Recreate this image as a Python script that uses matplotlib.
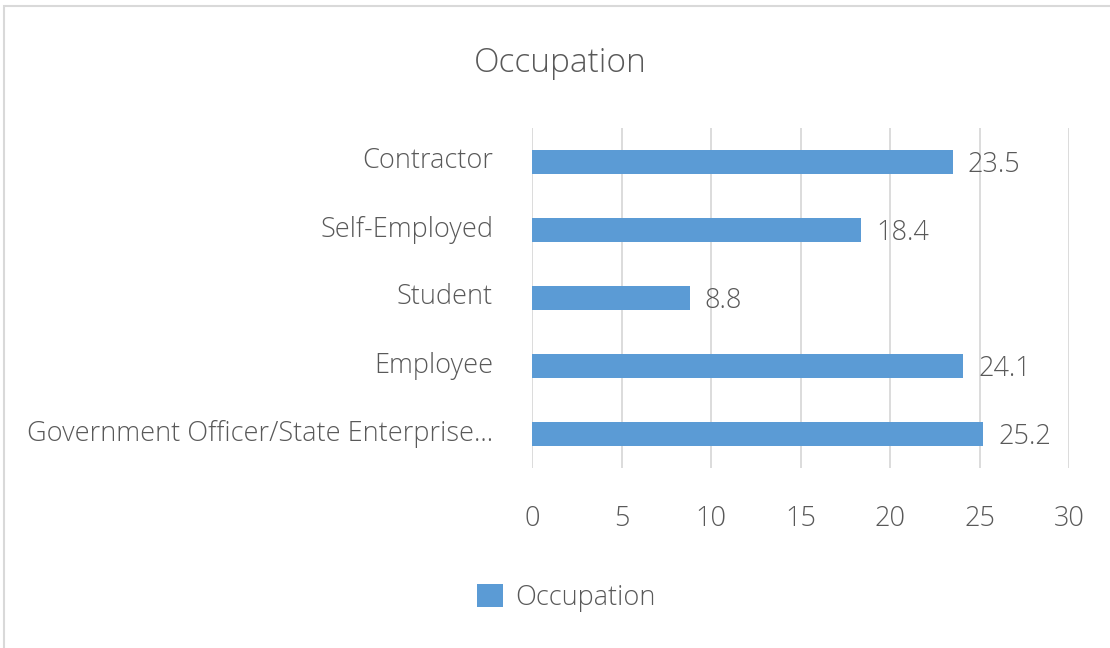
import matplotlib.pyplot as plt
from matplotlib.patches import Rectangle
from matplotlib.transforms import ScaledTranslation

categories = ["Government Officer/State Enterprise...", "Employee", "Student",
              "Self-Employed", "Contractor"]
values = [25.2, 24.1, 8.8, 18.4, 23.5]
xticks = [0, 5, 10, 15, 20, 25, 30]

bar_color = "#5B9BD5"
text_color = "#595959"
grid_color = "#D9D9D9"

plt.rcParams['font.family'] = ['Open Sans', 'DejaVu Sans']
plt.rcParams['font.weight'] = 'light'

fig = plt.figure(figsize=(11.1, 6.48), dpi=100)
ax = fig.add_axes([532 / 1110, 1 - 468 / 648, 537 / 1110, 340 / 648])

pos = list(range(len(categories)))
bars = ax.barh(pos, values, height=0.36, color=bar_color, label="Occupation", zorder=2)

ax.set_xlim(0, 30)
ax.set_ylim(-0.5, len(categories) - 0.5)
ax.set_xticks(xticks)
ax.set_xticklabels([str(t) for t in xticks])
ax.set_yticks(pos)
ax.set_yticklabels(categories)
ax.tick_params(axis='both', length=0, labelsize=19.5, colors=text_color)
ax.tick_params(axis='x', pad=27)
ax.tick_params(axis='y', pad=28)
ax.xaxis.grid(True, color=grid_color, linewidth=1.3, zorder=0)
for s in ax.spines.values():
    s.set_visible(False)

# category labels sit a little above the bar centres
shift = ScaledTranslation(0, 4 / 100, fig.dpi_scale_trans)
for lbl in ax.get_yticklabels():
    lbl.set_transform(lbl.get_transform() + shift)

for b, v in zip(bars, values):
    ax.annotate(f"{v}", (b.get_width(), b.get_y() + b.get_height() / 2),
                xytext=(11, -2), textcoords='offset points', ha='left', va='center',
                fontsize=19.5, color=text_color)

fig.text(560 / 1110, 1 - 63 / 648, "Occupation", ha='center', va='center',
         fontsize=24, color=text_color)

fig.legend(handles=[bars], labels=["Occupation"], loc='center',
           bbox_to_anchor=(566 / 1110, 1 - 598 / 648), frameon=False,
           fontsize=19.5, labelcolor=text_color, handlelength=0.95, handleheight=0.95,
           handletextpad=0.45)

fig.patches.append(Rectangle((4 / 1110, -0.01), 1.0, 1 - 6 / 648 + 0.01,
                             transform=fig.transFigure, fill=False,
                             edgecolor="#D9D9D9", linewidth=1.5))

fig.savefig("out.png", dpi=100)
